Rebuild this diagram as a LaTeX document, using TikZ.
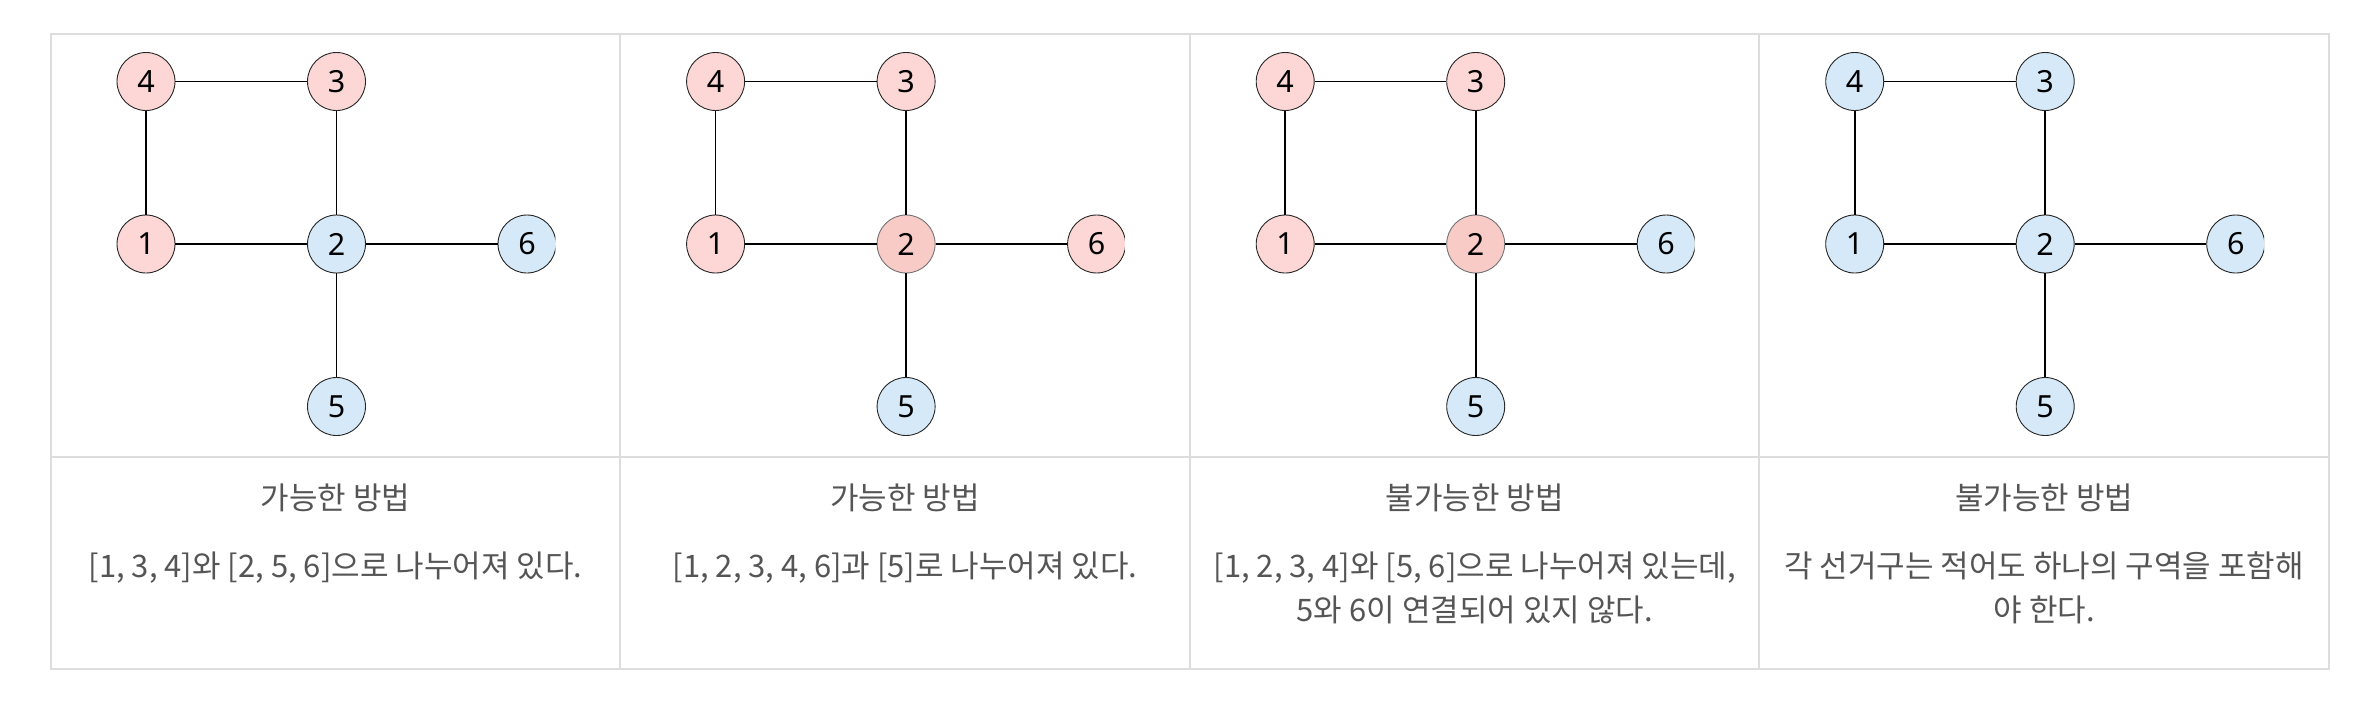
\documentclass[tikz,border=0pt]{standalone}
\usepackage{fontspec}
\setmainfont{Noto Sans CJK KR}
\newfontfamily\numfont{Noto Sans}
\definecolor{gridc}{HTML}{DDDDDD}
\definecolor{pinkc}{HTML}{FCD7D5}
\definecolor{pinkd}{HTML}{F8CBC7}
\definecolor{bluec}{HTML}{D5E9F8}
\definecolor{txtc}{HTML}{555555}
\tikzset{
  vtx/.style={circle, draw=black!85, line width=0.9pt, minimum size=58pt, inner sep=0pt,
    font=\numfont\fontsize{30.5}{30.5}\selectfont},
  pk/.style={vtx, fill=pinkc},
  pkd/.style={vtx, fill=pinkd, draw=black!55},
  bl/.style={vtx, fill=bluec},
  edge/.style={line width=1.7pt, black},
  gridline/.style={draw=gridc, line width=2pt},
  txt/.style={text=txtc, font=\fontsize{31}{44.5}\selectfont, align=center, anchor=base},
}
\newcommand\drawpanel[8]{%
  \begin{scope}[shift={(#2,0)}]
    \node[#3] (#1n1) at (95.3,244) {1};
    \node[#4] (#1n2) at (285.8,244) {2};
    \node[#5] (#1n3) at (285.8,81.5) {3};
    \node[#6] (#1n4) at (95.3,81.5) {4};
    \node[#7] (#1n5) at (285.8,406.5) {5};
    \begin{scope}
      \clip (440,200) rectangle (504.6,290);
      \node[#8] (#1n6) at (476.3,244) {6};
    \end{scope}
    \draw[edge] (#1n4) -- (#1n3);
    \draw[edge] (#1n4) -- (#1n1);
    \draw[edge] (#1n1) -- (#1n2);
    \draw[edge] (#1n3) -- (#1n2);
    \draw[edge] (#1n2) -- (#1n6);
    \draw[edge] (#1n2) -- (#1n5);
  \end{scope}}
\begin{document}
\begin{tikzpicture}[x=1pt,y=-1pt]
  \useasboundingbox (0,0) rectangle (2370,718);
  % table
  \draw[gridline] (50.7,34) rectangle (2329,669.3);
  \draw[gridline] (50.7,457.3) -- (2329,457.3);
  \draw[gridline] (620.3,34) -- (620.3,669.3);
  \draw[gridline] (1189.9,34) -- (1189.9,669.3);
  \draw[gridline] (1759.4,34) -- (1759.4,669.3);
  % panels
  \drawpanel{a}{50.7}{pk}{bl}{pk}{pk}{bl}{bl}
  \drawpanel{b}{620.3}{pk}{pkd}{pk}{pk}{bl}{pk}
  \drawpanel{c}{1189.9}{pk}{pkd}{pk}{pk}{bl}{bl}
  \drawpanel{d}{1759.4}{bl}{bl}{bl}{bl}{bl}{bl}
  % texts
  \node[txt] (at) at (335.5,509.5) {가능한 방법};
  \node[txt] (ab) at (335.5,577) {[1, 3, 4]와 [2, 5, 6]으로 나누어져 있다.};
  \node[txt] (bt) at (905.1,509.5) {가능한 방법};
  \node[txt] (bb) at (905.1,577) {[1, 2, 3, 4, 6]과 [5]로 나누어져 있다.};
  \node[txt] (ct) at (1474.7,509.5) {불가능한 방법};
  \node[txt] (cb) at (1474.7,621.5) {[1, 2, 3, 4]와 [5, 6]으로 나누어져 있는데,\\5와 6이 연결되어 있지 않다.};
  \node[txt] (dt) at (2044.2,509.5) {불가능한 방법};
  \node[txt] (db) at (2044.2,621.5) {각 선거구는 적어도 하나의 구역을 포함해\\야 한다.};
\end{tikzpicture}
\end{document}
